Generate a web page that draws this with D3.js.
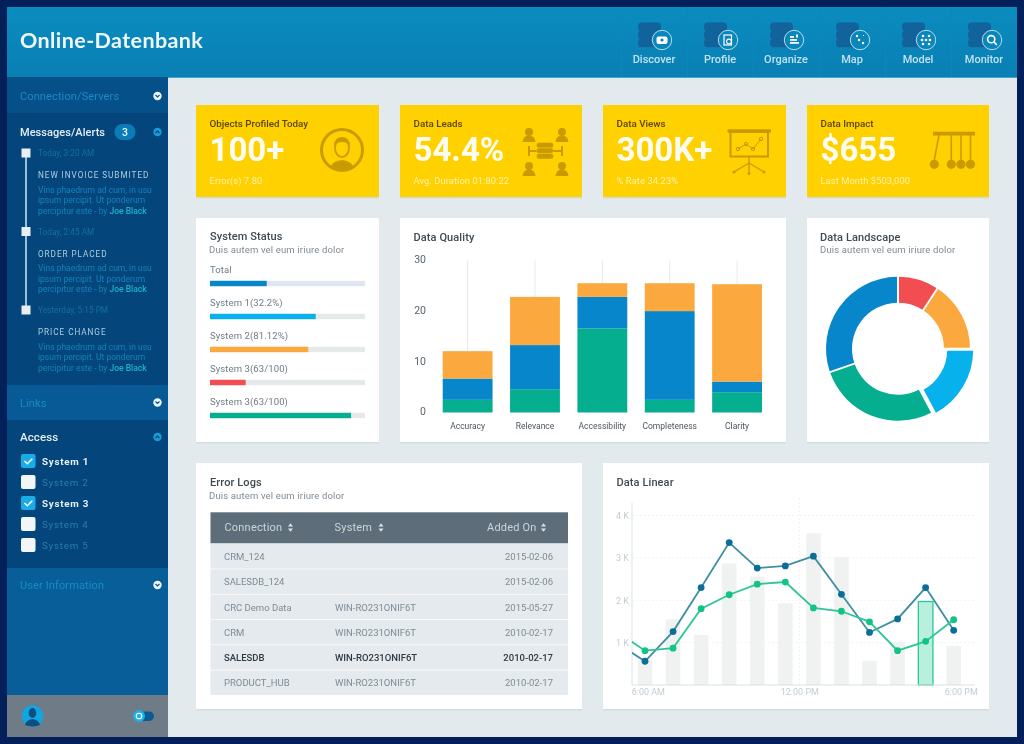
<!DOCTYPE html>
<html>
<head>
<meta charset="utf-8">
<title>Online-Datenbank</title>
<script src="https://cdn.jsdelivr.net/npm/d3@7/dist/d3.min.js"></script>
<style>
	html, body { margin: 0; padding: 0; background: #04235c; }
	svg { display: block; filter: blur(0.35px); }
	text { font-family: Roboto, "Noto Sans", sans-serif; }
</style>
</head>
<body>
<svg id="dash" width="1024" height="744"></svg>
<script>
// header navigation
const navItems = ['Discover', 'Profile', 'Organize', 'Map', 'Model', 'Monitor'];

// kpi cards
const kpiTitles = ['Objects Profiled Today', 'Data Leads', 'Data Views', 'Data Impact'];
const kpiValues = ['100+', '54.4%', '300K+', '$655'];
const kpiNotes = ['Error(s) 7.80', 'Avg. Duration 01:80:22', '% Rate 34.23%', 'Last Month $503,000'];

// system status
const statusLabels = ['Total', 'System 1(32.2%)', 'System 2(81.12%)', 'System 3(63/100)', 'System 3(63/100)'];
const statusValues = [36.6, 68.2, 63.4, 23, 91];

// data quality stacked bars
const qualityCategories = ['Accuracy', 'Relevance', 'Accessibility', 'Completeness', 'Clarity'];
const qualityGreen = [2.5, 4.6, 16.6, 2.5, 4];
const qualityBlue = [4.2, 8.7, 6.2, 17.5, 2.1];
const qualityOrange = [5.4, 9.5, 2.7, 5.5, 19.2];
const qualityTicks = [0, 10, 20, 30];

// data landscape donut, clockwise from the top
const landscapeNames = ['red', 'orange', 'sky', 'green', 'blue'];
const landscapeValues = [9.2, 15.8, 17.2, 27.5, 30.3];

// error logs table
const logColumns = ['Connection', 'System', 'Added On'];
const logConnections = ['CRM_124', 'SALESDB_124', 'CRC Demo Data', 'CRM', 'SALESDB', 'PRODUCT_HUB'];
const logSystems = ['', '', 'WIN-RO231ONIF6T', 'WIN-RO231ONIF6T', 'WIN-RO231ONIF6T', 'WIN-RO231ONIF6T'];
const logDates = ['2015-02-06', '2015-02-06', '2015-05-27', '2010-02-17', '2010-02-17', '2010-02-17'];

// data linear, values in thousands. slot -1 is cut off by the axis
const linearBars = [0.59, 1.55, 1.18, 2.87, 2.56, 1.93, 3.58, 3.02, 0.57, 1.02, 1.97, 0.92];
const linearDarkSlots = [-1, 0, 1, 2, 3, 4, 5, 6, 7, 8, 9, 10, 11];
const linearDark = [0.99, 0.56, 1.26, 2.30, 3.36, 2.76, 2.81, 3.04, 2.14, 1.24, 1.56, 2.30, 1.29];
const linearGreen = [1.26, 0.81, 0.87, 1.80, 2.13, 2.38, 2.43, 1.82, 1.74, 1.49, 0.81, 1.03, 1.54];
const linearHighlight = 10;
const linearYTicks = [1, 2, 3, 4];
const linearXSlots = [0.1, 5.5, 11.25];
const linearXLabels = ['6:00 AM', '12:00 PM', '6:00 PM'];

// sidebar content
const messageDates = ['Today, 3:20 AM', 'Today, 2:45 AM', 'Yesterday, 5:15 PM'];
const messageTitles = ['NEW INVOICE SUBMITED', 'ORDER PLACED', 'PRICE CHANGE'];
const accessSystems = ['System 1', 'System 2', 'System 3', 'System 4', 'System 5'];
const accessChecked = [true, false, true, false, false];

const colors = {
	orange: '#fba83e',
	blue: '#0786cc',
	green: '#04ae8f',
	red: '#f24e51',
	sky: '#07b1ec',
	yellow: '#ffd100',
	yellowIcon: '#c99b00',
	card: '#ffffff',
	page: '#e3eaee',
};

const svg = d3.select('#dash');

// small helper for text
function label(parent, x, y, str, size, fill, weight = 400, spacing = 0, anchor = 'start') {
	return parent.append('text')
		.attr('x', x)
		.attr('y', y)
		.attr('font-size', size)
		.attr('font-weight', weight)
		.attr('letter-spacing', spacing)
		.attr('text-anchor', anchor)
		.attr('fill', fill)
		.text(str);
}

function box(parent, x0, y0, x1, y1, fill, rx = 0) {
	return parent.append('rect')
		.attr('x', x0)
		.attr('y', y0)
		.attr('width', x1 - x0)
		.attr('height', y1 - y0)
		.attr('rx', rx)
		.attr('fill', fill);
}

// -------- page frame
const defs = svg.append('defs');
const headGrad = defs.append('linearGradient').attr('id', 'headGrad').attr('x2', 0).attr('y2', 1);
headGrad.append('stop').attr('offset', 0).attr('stop-color', '#0a8cbf');
headGrad.append('stop').attr('offset', 1).attr('stop-color', '#0a7fb4');
defs.append('clipPath').attr('id', 'linearClip')
	.append('rect').attr('x', 632).attr('y', 495).attr('width', 350).attr('height', 195);
defs.append('clipPath').attr('id', 'faceClip')
	.append('circle').attr('cx', 342).attr('cy', 150).attr('r', 20);

box(svg, 0, 0, 1024, 744, '#03205a');
box(svg, 7, 7, 1017, 737, colors.page);
box(svg, 7, 7, 1017, 77, 'url(#headGrad)');
box(svg, 168, 77, 1017, 78, '#3ea9d0');

label(svg, 20, 48, 'Online-Datenbank', 21.5, '#eef8fc', 700, 0.4).style('font-family', 'Lato, Roboto, sans-serif');

// -------- header nav
const navX = d3.scalePoint().domain(navItems).range([654, 984]);

function navGlyph(g, name) {
	const c = { x: 8, y: 0 };
	const stroke = '#ffffff';
	if (name === 'Discover') {
		g.append('rect').attr('x', c.x - 5.5).attr('y', c.y - 3.5).attr('width', 11).attr('height', 7.5).attr('rx', 2).attr('fill', stroke);
		g.append('circle').attr('cx', c.x).attr('cy', c.y).attr('r', 1.6).attr('fill', '#0a7fb4');
	} else if (name === 'Profile') {
		g.append('rect').attr('x', c.x - 4).attr('y', c.y - 5).attr('width', 7.5).attr('height', 10).attr('fill', 'none').attr('stroke', stroke).attr('stroke-width', 1.2);
		g.append('circle').attr('cx', c.x + 1).attr('cy', c.y + 1.5).attr('r', 2.4).attr('fill', 'none').attr('stroke', stroke).attr('stroke-width', 1.1);
	} else if (name === 'Organize') {
		[[-4, -4, 4], [-4, -1, 7], [-4, 2, 9]].forEach((b) => {
			g.append('rect').attr('x', c.x + b[0]).attr('y', c.y + b[1]).attr('width', b[2]).attr('height', 1.8).attr('fill', stroke);
		});
		g.append('rect').attr('x', c.x + 2).attr('y', c.y - 5.5).attr('width', 2).attr('height', 3).attr('fill', stroke);
	} else if (name === 'Map') {
		[[-3, -4], [-1, 0], [3, 3]].forEach((p) => {
			g.append('circle').attr('cx', c.x + p[0]).attr('cy', c.y + p[1]).attr('r', 1.2).attr('fill', stroke);
		});
		g.append('path').attr('d', `M${c.x + 3},${c.y - 5}l1,1`).attr('stroke', stroke);
	} else if (name === 'Model') {
		[[-3, -4], [3, -4], [-3, 4], [3, 4], [0, 0], [-4, 0], [4, 0]].forEach((p) => {
			g.append('circle').attr('cx', c.x + p[0]).attr('cy', c.y + p[1]).attr('r', 1.3).attr('fill', stroke);
		});
	} else {
		g.append('circle').attr('cx', c.x - 0.8).attr('cy', c.y - 0.8).attr('r', 3.6).attr('fill', 'none').attr('stroke', stroke).attr('stroke-width', 1.6);
		g.append('path').attr('d', `M${c.x + 1.8},${c.y + 1.8}l3,3`).attr('stroke', stroke).attr('stroke-width', 1.8);
	}
}

navItems.forEach((name) => {
	const g = svg.append('g').attr('transform', `translate(${navX(name)},40)`);

	// separator between items, barely there
	box(g, -33, -33, -32, 37, '#0a88bb');

	// database drum made of three discs
	[-17.5, -9.5, -1.5].forEach((dy) => {
		g.append('rect')
			.attr('x', -16)
			.attr('y', dy)
			.attr('width', 23)
			.attr('height', 8.8)
			.attr('rx', 3.8)
			.attr('fill', '#12629c');
	});

	const badge = g.append('g');
	badge.append('circle').attr('cx', 8).attr('cy', 0).attr('r', 9.7).attr('fill', '#0a86ba').attr('stroke', '#c5e6f2').attr('stroke-width', 0.9);
	navGlyph(badge, name);

	label(g, 0, 23, name, 11, '#bfe3f0', 500, 0, 'middle');
});

// -------- sidebar
box(svg, 7, 77, 168, 113, '#06508a');
box(svg, 7, 113, 168, 385, '#04467c');
box(svg, 7, 385, 168, 420, '#075a95');
box(svg, 7, 420, 168, 568, '#04467c');
box(svg, 7, 568, 168, 695, '#075e99');
box(svg, 7, 695, 168, 737, '#6f7c88');

function chevronButton(x, y, up) {
	const fill = up ? '#1a9ad6' : '#eef5f8';
	const ink = up ? '#04467c' : '#06508a';
	svg.append('circle').attr('cx', x).attr('cy', y).attr('r', 4.2).attr('fill', fill);
	svg.append('path')
		.attr('d', up ? `M${x - 2},${y + 1}l2,-2l2,2` : `M${x - 2},${y - 1}l2,2l2,-2`)
		.attr('fill', 'none')
		.attr('stroke', ink)
		.attr('stroke-width', 1.2);
}

label(svg, 20, 100, 'Connection/Servers', 11, '#1b8ac4', 400, 0.12);
chevronButton(157.5, 96, false);

label(svg, 20, 136, 'Messages/Alerts', 11, '#e3edf3', 500, 0.05);
box(svg, 114.5, 124, 135.5, 140, '#0a7db9', 8);
label(svg, 125, 136, '3', 10.5, '#e6f4fa', 500, 0, 'middle');
chevronButton(157.5, 132, true);

// message timeline
const messageTops = [153, 231.5, 310];
box(svg, 25, messageTops[0], 27, messageTops[2], '#9cc0d6');
messageTops.forEach((y, i) => {
	box(svg, 21.5, y - 4.5, 30.5, y + 4.5, '#e8eff3');
	label(svg, 38, y + 3, messageDates[i], 8.2, '#15709f', 400, 0.05);
	label(svg, 38, y + 25, messageTitles[i], 8.2, '#b0cddf', 400, 0.95);
	label(svg, 38, y + 39.5, 'Vins phaedrum ad cum, in usu', 8.5, '#1283b8');
	label(svg, 38, y + 50, 'ipsum percipit. Ut ponderum', 8.5, '#1283b8');
	const last = label(svg, 38, y + 60.5, 'percipitur este - by ', 8.5, '#1283b8');
	last.append('tspan').attr('fill', '#1bb2c6').attr('font-weight', 500).text('Joe Black');
});

label(svg, 20, 407, 'Links', 11, '#1b8ac4', 400, 0.12);
chevronButton(157.5, 402.5, false);

label(svg, 20, 441, 'Access', 11.5, '#e3edf3', 500, 0.1);
chevronButton(157.5, 437, true);

// access check list
const accessY = d3.scalePoint().domain(accessSystems).range([461, 545]);
accessSystems.forEach((name, i) => {
	const y = accessY(name);
	box(svg, 21, y - 7, 35.5, y + 7, accessChecked[i] ? '#19ade6' : '#f2f6f8', 2);
	if (accessChecked[i]) {
		svg.append('path')
			.attr('d', `M${24.5},${y}l2.8,2.8l5,-5`)
			.attr('fill', 'none')
			.attr('stroke', '#ffffff')
			.attr('stroke-width', 1.5);
	}
	label(svg, 42, y + 3.8, name, 9.8, accessChecked[i] ? '#e6eff4' : '#2e7aa6', accessChecked[i] ? 700 : 400, 0.75);
});

label(svg, 20, 589, 'User Information', 11, '#1b8ac4', 400, 0.12);
chevronButton(157.5, 585, false);

// user avatar and toggle
svg.append('circle').attr('cx', 32.5).attr('cy', 716).attr('r', 10.7).attr('fill', '#10a6e2');
svg.append('ellipse').attr('cx', 32.5).attr('cy', 713).attr('rx', 3.8).attr('ry', 5).attr('fill', '#0d4f83');
svg.append('path').attr('d', 'M25,725 q1,-5 7.5,-6 q6.500,1 7.500,6 q-7.500,2.800 -15,0z').attr('fill', '#0d4f83');
box(svg, 136, 711.5, 154, 721, '#0c5a92', 4.7);
svg.append('circle').attr('cx', 139).attr('cy', 716).attr('r', 6).attr('fill', '#1ab0ea');
svg.append('circle').attr('cx', 139).attr('cy', 716).attr('r', 2.8).attr('fill', 'none').attr('stroke', '#ffffff').attr('stroke-width', 1.1);

// -------- cards
function card(x0, y0, x1, y1, fill = colors.card) {
	box(svg, x0, y0 + 1.5, x1, y1 + 1.5, '#d3dce2');
	box(svg, x0, y0, x1, y1, fill);
}

const kpiX = [[196, 379], [400, 582], [603, 786], [807, 989]];
kpiX.forEach((span, i) => {
	card(span[0], 105, span[1], 197, colors.yellow);
	const x = span[0] + 13.5;
	label(svg, x, 127, kpiTitles[i], 9.8, '#5a4500', 500);
	label(svg, x, 161, kpiValues[i], 33, '#fffdf2', 700);
	label(svg, x, 184, kpiNotes[i], 9.3, '#fff0a8', 400, 0.1);
});

// kpi icons, all in plain picture coords
const kpiIcon = svg.append('g').attr('fill', colors.yellowIcon).attr('stroke', 'none');

// person in a ring
kpiIcon.append('circle').attr('cx', 342).attr('cy', 150).attr('r', 20.5).attr('fill', 'none').attr('stroke', colors.yellowIcon).attr('stroke-width', 3);
const face = kpiIcon.append('g').attr('clip-path', 'url(#faceClip)');
face.append('path').attr('d', 'M329,172 q1,-11 13,-12 q12,1 13,12z');
face.append('ellipse').attr('cx', 342).attr('cy', 148).attr('rx', 7).attr('ry', 9).attr('fill', 'none').attr('stroke', colors.yellowIcon).attr('stroke-width', 1.8);
face.append('path').attr('d', 'M334,147 q0,-10 8,-10 q8,0 8,10 q-2,-5 -8,-5 q-6,0 -8,5z');

// four people around a database
[[529, 133], [562, 133], [529, 167], [562, 167]].forEach((p) => {
	kpiIcon.append('circle').attr('cx', p[0]).attr('cy', p[1] - 1).attr('r', 4);
	kpiIcon.append('path').attr('d', `M${p[0] - 6.5},${p[1] + 9} q0.500,-6.500 6.500,-6.500 q6,0 6.500,6.500z`);
});
kpiIcon.append('rect').attr('x', 528).attr('y', 150).attr('width', 34).attr('height', 2);
kpiIcon.append('rect').attr('x', 528).attr('y', 146).attr('width', 2).attr('height', 10);
kpiIcon.append('rect').attr('x', 561).attr('y', 146).attr('width', 2).attr('height', 10);
[142.5, 148, 153.5].forEach((y) => {
	kpiIcon.append('rect').attr('x', 536.5).attr('y', y).attr('width', 17).attr('height', 5.4).attr('rx', 2.6)
		.attr('stroke', colors.yellow).attr('stroke-width', 0.4);
});

// presentation board
kpiIcon.append('rect').attr('x', 727.5).attr('y', 129.3).attr('width', 43.5).attr('height', 3.5).attr('rx', 1);
kpiIcon.append('rect').attr('x', 730.5).attr('y', 132).attr('width', 37.5).attr('height', 24.5).attr('fill', 'none').attr('stroke', colors.yellowIcon).attr('stroke-width', 2);
kpiIcon.append('path').attr('d', 'M738,149L746,144L753,149L761,139').attr('fill', 'none').attr('stroke', colors.yellowIcon).attr('stroke-width', 1);
[[738, 149], [746, 144], [753, 149], [761, 139]].forEach((p) => {
	kpiIcon.append('circle').attr('cx', p[0]).attr('cy', p[1]).attr('r', 1.7).attr('fill', 'none').attr('stroke', colors.yellowIcon);
});
kpiIcon.append('path').attr('d', 'M749,157V173M749,163L734,172M749,163L764,172').attr('fill', 'none').attr('stroke', colors.yellowIcon).attr('stroke-width', 1.4);
[[734, 172], [749, 173.5], [764, 172]].forEach((p) => {
	kpiIcon.append('circle').attr('cx', p[0]).attr('cy', p[1]).attr('r', 1.5);
});

// newton cradle
kpiIcon.append('rect').attr('x', 933).attr('y', 131.7).attr('width', 42).attr('height', 3.8);
[[939, 934.3], [951.300, 951.300], [961, 961], [970.500, 970.500]].forEach((s) => {
	kpiIcon.append('path').attr('d', `M${s[0]},135L${s[1]},160`).attr('stroke', colors.yellowIcon).attr('stroke-width', 1.6);
	kpiIcon.append('circle').attr('cx', s[1]).attr('cy', 164.300).attr('r', 4.6);
});

card(196, 218, 379, 442);
card(400, 218, 786, 442);
card(807, 218, 989, 442);
card(196, 463, 582, 709);
card(603, 463, 989, 709);

function cardTitle(x, y, str) {
	label(svg, x, y, str, 11, '#3f4a52', 500, 0.1);
}

function cardSub(x, y) {
	label(svg, x, y, 'Duis autem vel eum iriure dolor', 9.5, '#7e8a94', 400, 0.15);
}

// -------- system status
cardTitle(210, 240, 'System Status');
cardSub(209, 253);

const statusX = d3.scaleLinear().domain([0, 100]).range([210, 365]);
const statusY = d3.scalePoint().domain(d3.range(statusLabels.length)).range([283.5, 415.5]);
const statusColors = [colors.blue, colors.sky, colors.orange, colors.red, colors.green];

const statusRows = svg.append('g').selectAll('g')
	.data(statusValues)
	.enter().append('g');
statusRows.append('rect')
	.attr('x', statusX(0))
	.attr('y', (d, i) => statusY(i) - 2.7)
	.attr('width', statusX(100) - statusX(0))
	.attr('height', 5.4)
	.attr('fill', (d, i) => (i === 0 ? '#dde6f1' : '#e6e9ea'));
statusRows.append('rect')
	.attr('x', statusX(0))
	.attr('y', (d, i) => statusY(i) - 2.7)
	.attr('width', d => statusX(d) - statusX(0))
	.attr('height', 5.4)
	.attr('fill', (d, i) => statusColors[i]);
statusRows.append('text')
	.attr('x', 210)
	.attr('y', (d, i) => statusY(i) - 10.5)
	.attr('font-size', 9.5)
	.attr('letter-spacing', 0.1)
	.attr('fill', '#6f7b85')
	.text((d, i) => statusLabels[i]);

// -------- data quality
cardTitle(413.5, 241, 'Data Quality');

const qualityX = d3.scaleBand()
	.domain(qualityCategories)
	.range([442.7, 762])
	.paddingInner(0.26)
	.paddingOuter(0);
const qualityY = d3.scaleLinear().domain([0, 30]).range([412.5, 260.4]);

const qualityTable = qualityCategories.map((name, i) => ({
	name,
	green: qualityGreen[i],
	blue: qualityBlue[i],
	orange: qualityOrange[i],
}));
const qualityStack = d3.stack().keys(['green', 'blue', 'orange'])(qualityTable);

// guide line up from each bar
svg.append('g').selectAll('line')
	.data(qualityCategories)
	.enter().append('line')
	.attr('x1', d => qualityX(d) + qualityX.bandwidth() / 2)
	.attr('x2', d => qualityX(d) + qualityX.bandwidth() / 2)
	.attr('y1', qualityY(30))
	.attr('y2', qualityY(10))
	.attr('stroke', '#e7eaec');

svg.append('g').selectAll('g')
	.data(qualityStack)
	.enter().append('g')
	.attr('fill', d => colors[d.key])
	.selectAll('rect')
	.data(d => d)
	.enter().append('rect')
	.attr('x', d => qualityX(d.data.name))
	.attr('y', d => qualityY(d[1]))
	.attr('width', qualityX.bandwidth())
	.attr('height', d => qualityY(d[0]) - qualityY(d[1]));

const qualityYAxis = svg.append('g')
	.attr('transform', 'translate(429,-1)')
	.call(d3.axisLeft(qualityY).tickValues(qualityTicks).tickSize(0).tickPadding(3));
qualityYAxis.select('.domain').remove();
qualityYAxis.selectAll('text')
	.attr('font-size', 10.5)
	.attr('font-family', 'Roboto')
	.attr('fill', '#59646c');

const qualityXAxis = svg.append('g')
	.attr('transform', 'translate(0,412.5)')
	.call(d3.axisBottom(qualityX).tickSize(0).tickPadding(10));
qualityXAxis.select('.domain').remove();
qualityXAxis.selectAll('text')
	.attr('font-size', 8.5)
	.attr('font-family', 'Roboto')
	.attr('fill', '#4c5760');

// -------- data landscape
cardTitle(820, 240.5, 'Data Landscape');
cardSub(820, 253);

const landscapePie = d3.pie().sort(null)(landscapeValues);
const landscapeArc = d3.arc().innerRadius(46).outerRadius(72).padAngle(0.022);
const landscape = svg.append('g').attr('transform', 'translate(898,348.7)');
landscape.selectAll('path')
	.data(landscapePie)
	.enter().append('path')
	.attr('d', landscapeArc)
	.attr('fill', (d, i) => colors[landscapeNames[i]])
	.attr('transform', (d, i) => (landscapeNames[i] === 'sky' ? 'translate(3.2,1)' : null));

// -------- error logs
cardTitle(210, 485.5, 'Error Logs');
cardSub(209, 498.5);

function sortIcon(x, y) {
	svg.append('path')
		.attr('d', `M${x - 2.6},${y - 1}l2.6,-3.2l2.6,3.2zM${x - 2.6},${y + 1}l2.6,3.2l2.6,-3.2z`)
		.attr('fill', '#d9e1e6');
}

box(svg, 210.5, 512.3, 568, 543.3, '#5d6d7a');
const logColumnX = [224.5, 334.5, 487];
const logColumnSort = [290.5, 381, 543.5];
logColumns.forEach((name, i) => {
	label(svg, logColumnX[i], 530.5, name, 11, '#cbd5dc', 400, 0.2);
	sortIcon(logColumnSort[i], 527.5);
});

const logRowY = d3.scaleBand()
	.domain(d3.range(logConnections.length))
	.range([544, 695])
	.paddingInner(0.03);
const logRows = svg.append('g').selectAll('g')
	.data(logConnections)
	.enter().append('g')
	.attr('font-size', 9.5)
	.attr('fill', d => (d === 'SALESDB' ? '#2f3a42' : '#7f8b94'))
	.attr('font-weight', d => (d === 'SALESDB' ? 500 : 400));
logRows.append('rect')
	.attr('x', 210.5)
	.attr('y', (d, i) => logRowY(i))
	.attr('width', 357.5)
	.attr('height', logRowY.bandwidth())
	.attr('fill', '#e4eaee');
logRows.append('text')
	.attr('x', 224)
	.attr('y', (d, i) => logRowY(i) + 16)
	.text(d => d);
logRows.append('text')
	.attr('x', 335)
	.attr('y', (d, i) => logRowY(i) + 16)
	.text((d, i) => logSystems[i]);
logRows.append('text')
	.attr('x', 553)
	.attr('y', (d, i) => logRowY(i) + 16)
	.attr('text-anchor', 'end')
	.text((d, i) => logDates[i]);

// -------- data linear
cardTitle(616.5, 486, 'Data Linear');

const linearX = d3.scaleLinear().domain([0, 11]).range([645, 953.7]);
const linearY = d3.scaleLinear().domain([0, 4]).range([685, 515.5]);
const linearBarWidth = 14.6;

// faint grid
svg.append('g').selectAll('line')
	.data(linearYTicks)
	.enter().append('line')
	.attr('x1', 632)
	.attr('x2', 975)
	.attr('y1', d => linearY(d))
	.attr('y2', d => linearY(d))
	.attr('stroke', '#f1f4f4')
	.attr('stroke-dasharray', '2,2');
svg.append('line')
	.attr('x1', linearX(5.5))
	.attr('x2', linearX(5.5))
	.attr('y1', 498)
	.attr('y2', 685)
	.attr('stroke', '#f1f4f4')
	.attr('stroke-dasharray', '2,2');

svg.append('g').selectAll('rect')
	.data(linearBars)
	.enter().append('rect')
	.attr('x', (d, i) => linearX(i) - linearBarWidth / 2)
	.attr('y', d => linearY(d))
	.attr('width', linearBarWidth)
	.attr('height', d => linearY(0) - linearY(d))
	.attr('fill', (d, i) => (i === linearHighlight ? '#b9f0dd' : '#f0f2f2'))
	.attr('stroke', (d, i) => (i === linearHighlight ? '#2cc79b' : 'none'))
	.attr('stroke-width', 1.3);

// axis lines and labels
const linearYAxis = svg.append('g')
	.attr('transform', 'translate(632,0)')
	.call(d3.axisLeft(linearY).tickValues(linearYTicks).tickSize(0).tickPadding(3).tickFormat(d => `${d} K`));
linearYAxis.select('.domain').remove();
linearYAxis.selectAll('text')
	.attr('font-size', 9)
	.attr('font-family', 'Roboto')
	.attr('fill', '#c4cdd2');

const linearXAxis = svg.append('g')
	.attr('transform', 'translate(0,685)')
	.call(d3.axisBottom(linearX)
		.tickValues(linearXSlots)
		.tickSize(0)
		.tickPadding(4)
		.tickFormat((d, i) => linearXLabels[i]));
linearXAxis.select('.domain').remove();
linearXAxis.selectAll('text')
	.attr('font-size', 9)
	.attr('font-family', 'Roboto')
	.attr('fill', '#c4cdd2');

svg.append('path')
	.attr('d', 'M632,503V685H975')
	.attr('fill', 'none')
	.attr('stroke', '#d5e3e0');

const linearLine = d3.line()
	.x((d, i) => linearX(linearDarkSlots[i]))
	.y(d => linearY(d));
const linearSeries = [
	{ values: linearDark, line: '#3f8fa3', dot: '#0b6e99' },
	{ values: linearGreen, line: '#30c49b', dot: '#10c583' },
];
const linearPlot = svg.append('g').attr('clip-path', 'url(#linearClip)');
linearSeries.forEach((s) => {
	linearPlot.append('path')
		.attr('d', linearLine(s.values))
		.attr('fill', 'none')
		.attr('stroke', s.line)
		.attr('stroke-width', 1.8);
	linearPlot.append('g').selectAll('circle')
		.data(s.values.slice(1))
		.enter().append('circle')
		.attr('cx', (d, i) => linearX(i))
		.attr('cy', d => linearY(d))
		.attr('r', 3.4)
		.attr('fill', s.dot);
});
</script>
</body>
</html>
